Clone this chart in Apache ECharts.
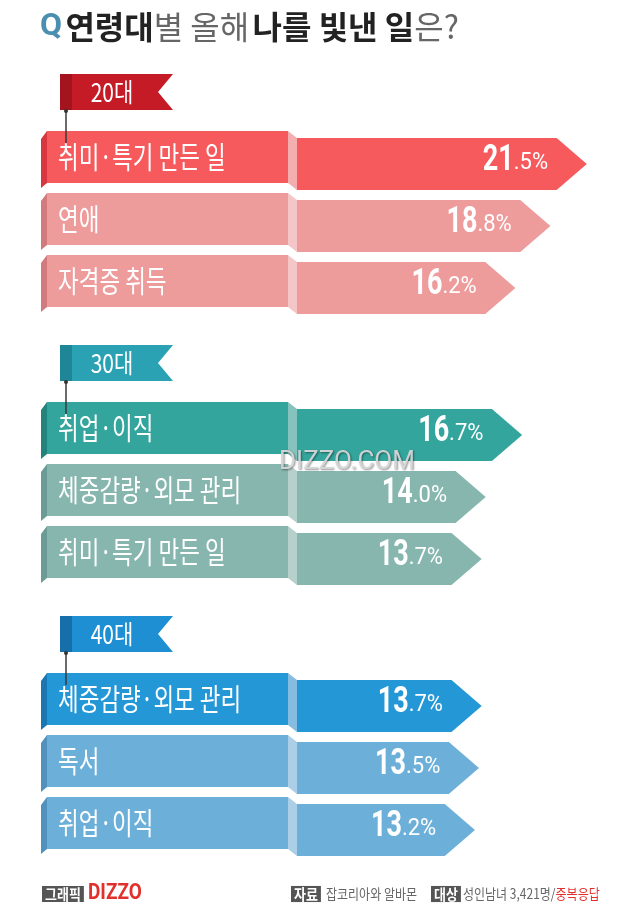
<!DOCTYPE html>
<html><head><meta charset="utf-8">
<script src="https://cdn.jsdelivr.net/npm/echarts@6/dist/echarts.min.js"></script>
<style>html,body{margin:0;padding:0;background:#fff}#c{width:640px;height:913px}</style>
</head><body><div id="c"></div>
<script>
// ---- data ----
const groupNames = ['20대', '30대', '40대'];
const cats20 = ['취미·특기 만든 일', '연애', '자격증 취득'];
const vals20 = [21.5, 18.8, 16.2];
const cats30 = ['취업·이직', '체중감량·외모 관리', '취미·특기 만든 일'];
const vals30 = [16.7, 14.0, 13.7];
const cats40 = ['체중감량·외모 관리', '독서', '취업·이직'];
const vals40 = [13.7, 13.5, 13.2];

const catsAll = [cats20, cats30, cats40];
const valsAll = [vals20, vals30, vals40];

const palettes = [
  {bar:['#f65a5d','#ee9b9c'], wedge:['#d8373f','#d27b7e'], strip:['#f4aeb0','#f4c6c7'], flag:'#c41b27', flagDark:'#a3141e'},
  {bar:['#33a59d','#87b6af'], wedge:['#22847d','#6b9b95'], strip:['#86c3be','#b6d0cc'], flag:'#2aa2b4', flagDark:'#1e8696'},
  {bar:['#2497d6','#6cb0d9'], wedge:['#1a77b1','#5291be'], strip:['#86bce0','#aacfe7'], flag:'#1e8fd2', flagDark:'#166fa8'}
];
const KR = "'Noto Sans CJK KR', 'Noto Sans', sans-serif";
const NUM = "Roboto, 'Noto Sans', sans-serif";
const gridTops = [133, 404, 675];

function makeRender(g) {
  const cats = catsAll[g], pal = palettes[g];
  return function (params, api) {
    const i = api.value(1), v = api.value(0);
    const p0 = api.coord([0, i]), p1 = api.coord([v, i]);
    const band = api.size([0, 1])[1];
    const h = band * 52 / 62;
    const cy = p0[1], T = cy - h / 2, B = cy + h / 2;
    const x0 = p0[0], tip = p1[0], d = h * 0.58;
    const k = i === 0 ? 0 : 1;
    const s = v.toFixed(1).split('.');
    const split = tip - 73;
    const ch = [
      {type:'polygon', shape:{points:[[x0-9,T-7],[x0,T],[x0,B],[x0-9,B-7]]}, style:{fill:pal.strip[k]}},
      {type:'rect', shape:{x:x0-250, y:T-7, width:241, height:h}, style:{fill:pal.bar[k]}},
      {type:'polygon', shape:{points:[[x0-256,T+1],[x0-250,T-7],[x0-250,B-7],[x0-256,B-2]]}, style:{fill:pal.wedge[k]}},
      {type:'polygon', shape:{points:[[x0,T],[tip-d,T],[tip,cy],[tip-d,B],[x0,B]]}, style:{fill:pal.bar[k]}},
      {type:'text', x:x0-239, y:cy-7, scaleY:1.3,
        style:{text:cats[i], x:0, y:0, fill:'#fff', fontSize:22.5, fontFamily:KR, align:'left', verticalAlign:'middle'}},
      {type:'text', x:split, y:cy-3, scaleY:1.35,
        style:{text:s[0], x:0, y:0, fill:'#fff', fontSize:27, fontWeight:'bold', fontFamily:NUM, align:'right', verticalAlign:'middle'}},
      {type:'text', x:split, y:cy-1, scaleY:1.1,
        style:{text:'.' + s[1] + '%', x:0, y:0, fill:'#fff', fontSize:22, fontFamily:NUM, align:'left', verticalAlign:'middle'}}
    ];
    if (i === 0) {
      const fl = x0-237, fr = x0-124, ft = T-64, fb = T-28, fm = (ft+fb)/2;
      ch.push(
        {type:'polygon', shape:{points:[[fl,ft],[fr,ft],[fr-15,fm],[fr,fb],[fl,fb]]}, style:{fill:pal.flag}},
        {type:'rect', shape:{x:fl, y:ft, width:12, height:fb-ft}, style:{fill:pal.flagDark}},
        {type:'line', shape:{x1:x0-231, y1:fb, x2:x0-231, y2:T+5}, style:{stroke:'#3a3a3a', lineWidth:1.5}},
        {type:'circle', shape:{cx:x0-231, cy:fb+1, r:2}, style:{fill:'#333'}},
        {type:'text', x:x0-185, y:fm, scaleY:1.25,
          style:{text:groupNames[g], x:0, y:0, fill:'#fff', fontSize:21, fontFamily:KR, align:'center', verticalAlign:'middle'}}
      );
    }
    return {type:'group', children:ch};
  };
}

const grids = [], xAxes = [], yAxes = [], series = [];
for (let g = 0; g < 3; g++) {
  grids.push({left:297, top:gridTops[g], width:337, height:186});
  xAxes.push({type:'value', gridIndex:g, min:0, max:25, show:false});
  yAxes.push({type:'category', gridIndex:g, data:catsAll[g], inverse:true, show:false});
  series.push({
    type:'custom', xAxisIndex:g, yAxisIndex:g, encode:{x:0, y:1},
    renderItem: makeRender(g),
    data: valsAll[g].map((v, i) => [v, i]),
    silent:true
  });
}

const chart = echarts.init(document.getElementById('c'), null, {renderer:'canvas'});
chart.setOption({
  backgroundColor:'#fff',
  animation:false,
  grid:grids, xAxis:xAxes, yAxis:yAxes, series:series,
  graphic:[
    {type:'text', x:40, y:27, z:100,
      style:{text:'{q|Q} {a|연령대}{b|별 올해} {a|나를 빛낸 일}{b|은?}', verticalAlign:'middle',
        rich:{
          q:{fontSize:32, fontWeight:'bold', fontFamily:NUM, fill:'#4a8fb0'},
          a:{fontSize:32, fontWeight:'bold', fontFamily:KR, fill:'#222'},
          b:{fontSize:32, fontFamily:KR, fill:'#666'}
        }}},
    {type:'text', x:279, y:462, z:100,
      style:{text:'DIZZO.COM', fontSize:26, fontFamily:NUM, fill:'rgba(214,214,214,0.95)',
        textShadowColor:'rgba(0,0,0,0.45)', textShadowBlur:2, textShadowOffsetX:1, textShadowOffsetY:1, verticalAlign:'middle'}},
    {type:'text', x:42, y:894, scaleY:1.15, z:100,
      style:{text:'그래픽', fontSize:13, fontWeight:'bold', fontFamily:KR, fill:'#fff', backgroundColor:'#555', padding:[1,3,0,3], verticalAlign:'middle'}},
    {type:'text', x:88, y:894, scaleY:1.15, z:100,
      style:{text:'DIZZO', fontSize:19, fontWeight:'bold', fontFamily:NUM, fill:'#e2312c', verticalAlign:'middle'}},
    {type:'text', x:291, y:894, scaleY:1.15, z:100,
      style:{text:'자료', fontSize:13, fontWeight:'bold', fontFamily:KR, fill:'#fff', backgroundColor:'#555', padding:[1,3,0,3], verticalAlign:'middle'}},
    {type:'text', x:326, y:894, scaleY:1.15, z:100,
      style:{text:'잡코리아와 알바몬', fontSize:12, fontFamily:KR, fill:'#666', verticalAlign:'middle'}},
    {type:'text', x:431, y:894, scaleY:1.15, z:100,
      style:{text:'대상', fontSize:13, fontWeight:'bold', fontFamily:KR, fill:'#fff', backgroundColor:'#555', padding:[1,3,0,3], verticalAlign:'middle'}},
    {type:'text', x:463, y:894, scaleY:1.15, z:100,
      style:{text:'{g|성인남녀 3,421명/}{r|중복응답}', verticalAlign:'middle',
        rich:{g:{fontSize:12, fontFamily:KR, fill:'#666'}, r:{fontSize:12, fontFamily:KR, fill:'#e2312c'}}}}
  ]
});
</script></body></html>
